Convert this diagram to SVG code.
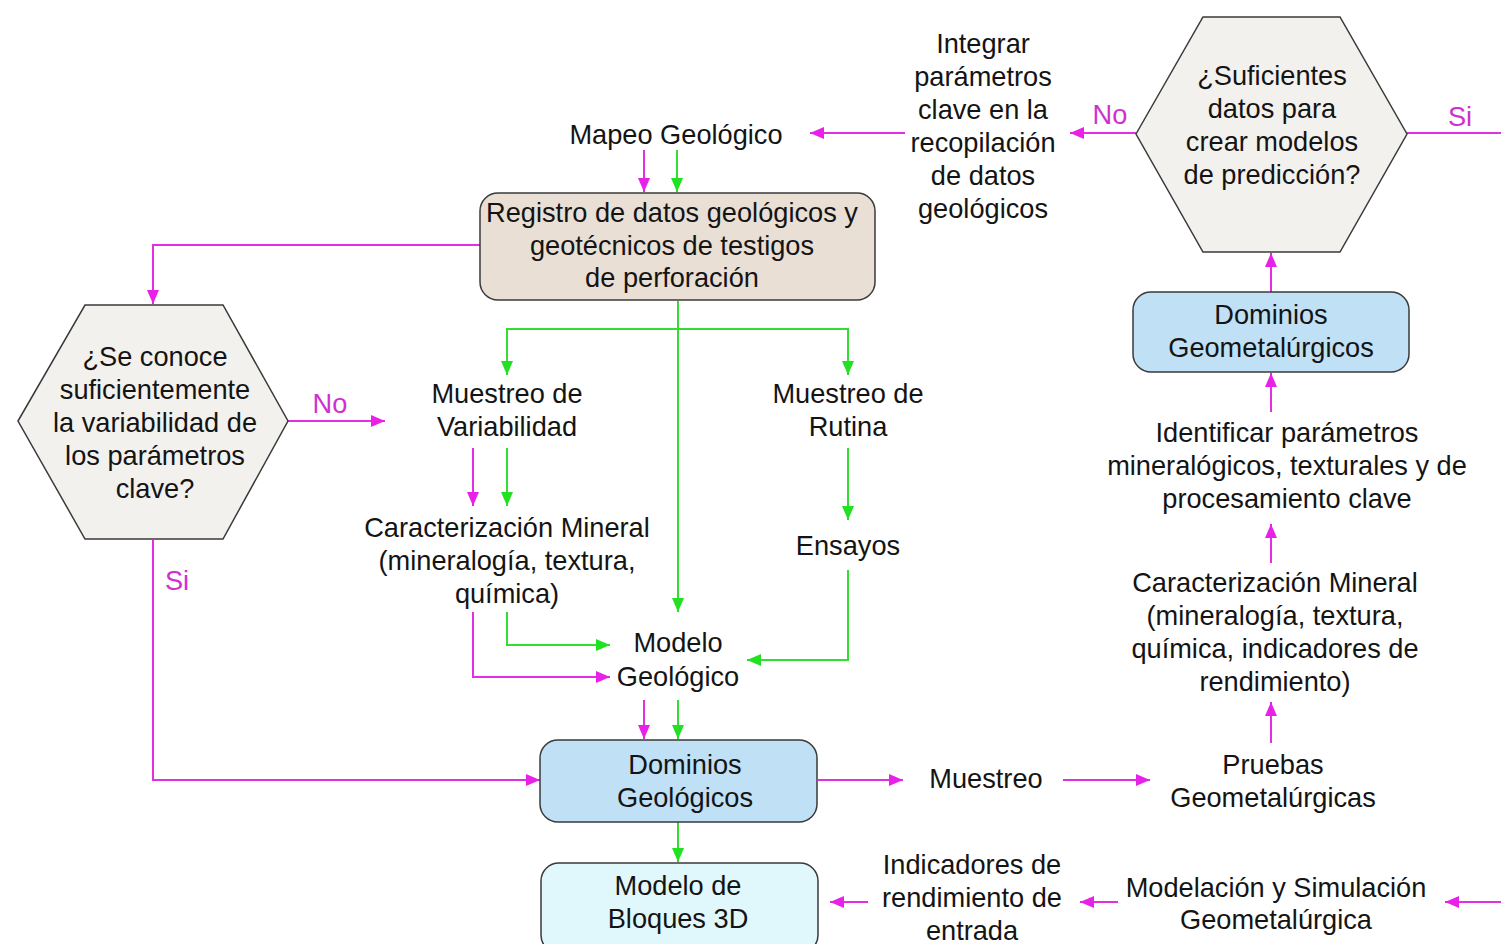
<svg xmlns="http://www.w3.org/2000/svg" width="1501" height="944" viewBox="0 0 1501 944">
<defs>
<style>
text{font-family:"Liberation Sans",Arial,sans-serif;font-size:27.2px;fill:#141414;text-anchor:middle}
.lbl{fill:#d030d0}
.m{stroke:#e030e0;stroke-width:2;fill:none}
.g{stroke:#33dd33;stroke-width:2;fill:none}
.hex{fill:#f3f1ee;stroke:#3a3a3a;stroke-width:1.5}
.box{stroke:#3a3a3a;stroke-width:1.5}
</style>
<marker id="am" viewBox="0 0 14 12" refX="14" refY="6" markerWidth="14" markerHeight="12" markerUnits="userSpaceOnUse" orient="auto"><path d="M0,0 L14,6 L0,12 Z" fill="#e820e8"/></marker>
<marker id="ag" viewBox="0 0 14 12" refX="14" refY="6" markerWidth="14" markerHeight="12" markerUnits="userSpaceOnUse" orient="auto"><path d="M0,0 L14,6 L0,12 Z" fill="#22e022"/></marker>
</defs>
<rect width="1501" height="944" fill="#ffffff"/>

<g id="connectors">
<path class="m" d="M905,133 H810" marker-end="url(#am)"/>
<path class="m" d="M1136,133 H1070" marker-end="url(#am)"/>
<path class="m" d="M1407,133 H1501"/>
<path class="m" d="M644,150 V192" marker-end="url(#am)"/>
<path class="g" d="M677,150 V192" marker-end="url(#ag)"/>
<path class="m" d="M480,245 H153 V304" marker-end="url(#am)"/>
<path class="m" d="M288,421 H385" marker-end="url(#am)"/>
<path class="m" d="M153,540 V780 H540" marker-end="url(#am)"/>
<path class="g" d="M678,301 V612" marker-end="url(#ag)"/>
<path class="g" d="M507,375 V329 H848 V375" />
<path class="g" d="M507,360 V375" marker-end="url(#ag)"/>
<path class="g" d="M848,360 V375" marker-end="url(#ag)"/>
<path class="m" d="M473,448 V506" marker-end="url(#am)"/>
<path class="g" d="M507,448 V506" marker-end="url(#ag)"/>
<path class="g" d="M848,448 V520" marker-end="url(#ag)"/>
<path class="g" d="M848,570 V660 H747" marker-end="url(#ag)"/>
<path class="g" d="M507,612 V645 H610" marker-end="url(#ag)"/>
<path class="m" d="M473,612 V677 H610" marker-end="url(#am)"/>
<path class="m" d="M644,700 V739" marker-end="url(#am)"/>
<path class="g" d="M678,700 V739" marker-end="url(#ag)"/>
<path class="g" d="M678,822 V862" marker-end="url(#ag)"/>
<path class="m" d="M818,780 H903" marker-end="url(#am)"/>
<path class="m" d="M1063,780 H1150" marker-end="url(#am)"/>
<path class="m" d="M1271,743 V702" marker-end="url(#am)"/>
<path class="m" d="M1271,563 V524" marker-end="url(#am)"/>
<path class="m" d="M1271,412 V373" marker-end="url(#am)"/>
<path class="m" d="M1271,292 V253" marker-end="url(#am)"/>
<path class="m" d="M1501,902 H1445" marker-end="url(#am)"/>
<path class="m" d="M1118,902 H1080" marker-end="url(#am)"/>
<path class="m" d="M868,902 H830" marker-end="url(#am)"/>
</g>

<g id="labels">
<text class="lbl" x="1110" y="124">No</text>
<text class="lbl" x="1460" y="126">Si</text>
<text class="lbl" x="330" y="413">No</text>
<text class="lbl" x="177" y="590">Si</text>
</g>

<g id="mapeo"><text x="676" y="144">Mapeo Geológico</text></g>

<g id="registro">
<rect class="box" x="480" y="193" width="395" height="107" rx="18" fill="#e9dfd5"/>
<text x="672" y="222">Registro de datos geológicos y<tspan x="672" dy="33">geotécnicos de testigos</tspan><tspan x="672" dy="32">de perforación</tspan></text>
</g>

<g id="integrar">
<text x="983" y="53">Integrar<tspan x="983" dy="33">parámetros</tspan><tspan x="983" dy="33">clave en la</tspan><tspan x="983" dy="33">recopilación</tspan><tspan x="983" dy="33">de datos</tspan><tspan x="983" dy="33">geológicos</tspan></text>
</g>

<g id="hex-pred">
<polygon class="hex" points="1136,134 1203,17 1340,17 1407,134 1340,252 1203,252"/>
<text x="1272" y="85">¿Suficientes<tspan x="1272" dy="33">datos para</tspan><tspan x="1272" dy="33">crear modelos</tspan><tspan x="1272" dy="33">de predicción?</tspan></text>
</g>

<g id="dom-geomet">
<rect class="box" x="1133" y="292" width="276" height="80" rx="18" fill="#bfe0f5"/>
<text x="1271" y="324">Dominios<tspan x="1271" dy="33">Geometalúrgicos</tspan></text>
</g>

<g id="identificar">
<text x="1287" y="442">Identificar parámetros<tspan x="1287" dy="33">mineralógicos, texturales y de</tspan><tspan x="1287" dy="33">procesamiento clave</tspan></text>
</g>

<g id="caract-right">
<text x="1275" y="592">Caracterización Mineral<tspan x="1275" dy="33">(mineralogía, textura,</tspan><tspan x="1275" dy="33">química, indicadores de</tspan><tspan x="1275" dy="33">rendimiento)</tspan></text>
</g>

<g id="pruebas">
<text x="1273" y="774">Pruebas<tspan x="1273" dy="33">Geometalúrgicas</tspan></text>
</g>

<g id="hex-var">
<polygon class="hex" points="18,421 85,305 223,305 288,421 223,539 85,539"/>
<text x="155" y="366">¿Se conoce<tspan x="155" dy="33">suficientemente</tspan><tspan x="155" dy="33">la variabilidad de</tspan><tspan x="155" dy="33">los parámetros</tspan><tspan x="155" dy="33">clave?</tspan></text>
</g>

<g id="muestreo-var">
<text x="507" y="403">Muestreo de<tspan x="507" dy="33">Variabilidad</tspan></text>
</g>

<g id="muestreo-rut">
<text x="848" y="403">Muestreo de<tspan x="848" dy="33">Rutina</tspan></text>
</g>

<g id="caract-left">
<text x="507" y="537">Caracterización Mineral<tspan x="507" dy="33">(mineralogía, textura,</tspan><tspan x="507" dy="33">química)</tspan></text>
</g>

<g id="ensayos"><text x="848" y="555">Ensayos</text></g>

<g id="modelo-geo">
<text x="678" y="652">Modelo<tspan x="678" dy="34">Geológico</tspan></text>
</g>

<g id="dom-geo">
<rect class="box" x="540" y="740" width="277" height="82" rx="18" fill="#bfe0f5"/>
<text x="685" y="774">Dominios<tspan x="685" dy="33">Geológicos</tspan></text>
</g>

<g id="muestreo"><text x="986" y="788">Muestreo</text></g>

<g id="bloques">
<rect class="box" x="541" y="863" width="277" height="90" rx="18" fill="#e0f8fc"/>
<text x="678" y="895">Modelo de<tspan x="678" dy="33">Bloques 3D</tspan></text>
</g>

<g id="indicadores">
<text x="972" y="874">Indicadores de<tspan x="972" dy="33">rendimiento de</tspan><tspan x="972" dy="33">entrada</tspan></text>
</g>

<g id="modelacion">
<text x="1276" y="897">Modelación y Simulación<tspan x="1276" dy="32">Geometalúrgica</tspan></text>
</g>
</svg>
